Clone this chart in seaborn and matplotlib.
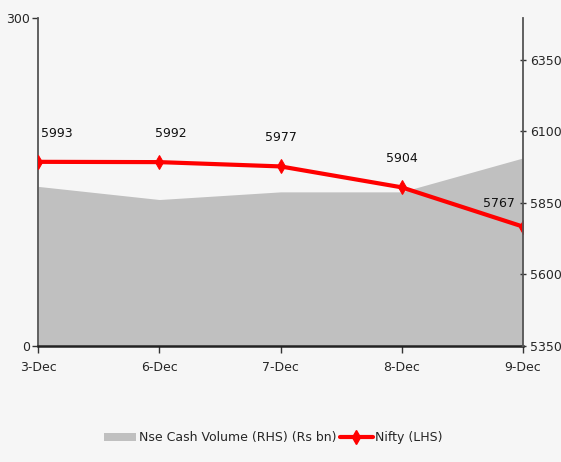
import numpy as np
import pandas as pd
import matplotlib as mpl
mpl.use("Agg")
import matplotlib.pyplot as plt
import seaborn as sns
from matplotlib.patches import Patch
from matplotlib.lines import Line2D

dates = ['3-Dec', '6-Dec', '7-Dec', '8-Dec', '9-Dec']
cash_volume = [146, 134, 141, 141, 172]
nifty = [5993, 5992, 5977, 5904, 5767]
left_ticks = [0, 300]
right_ticks = [5350, 5600, 5850, 6100, 6350]

sns.set_style("white")
plt.rcParams['font.family'] = ['DejaVu Sans']
bg = '#f6f6f6'

df = pd.DataFrame({'date': dates, 'pos': np.arange(len(dates)),
                   'volume': cash_volume, 'nifty': nifty})

fig = plt.figure(figsize=(5.61, 4.62), dpi=100, facecolor=bg)
ax = fig.add_axes([0.068, 0.251, 0.864, 0.71])
ax.set_facecolor(bg)

# area on left axis
ax.fill_between(df['pos'], 0, df['volume'], color='#c0c0c0', lw=0)
ax.set_xlim(0, len(dates) - 1)
ax.set_ylim(0, 300)
ax.set_yticks(left_ticks)
ax.set_xticks(df['pos'])
ax.set_xticklabels(dates)

ax2 = ax.twinx()
sns.lineplot(data=df, x='pos', y='nifty', ax=ax2, color='#ff0000', lw=3,
             marker='d', markersize=7, markeredgecolor='#ff0000')
ax2.set_ylim(5350, 6495)
ax2.set_yticks(right_ticks)
ax2.set_xlabel('')
ax2.set_ylabel('')
ax.set_xlim(0, len(dates) - 1)

n = len(nifty)
for i, v in enumerate(nifty):
    ha = 'left' if i == 0 else ('right' if i == n - 1 else 'center')
    dx = 2 if i == 0 else (-6 if i == n - 1 else (8 if i == 1 else 0))
    dy = 12 if i == n - 1 else 16
    ax2.annotate(str(v), (i, v), xytext=(dx, dy), textcoords='offset points',
                 ha=ha, va='bottom', fontsize=9, color='#111111')

for a in (ax, ax2):
    for s in a.spines.values():
        s.set_visible(False)
ax.spines['left'].set_visible(True)
ax.spines['bottom'].set_visible(True)
ax2.spines['right'].set_visible(True)
ax.spines['left'].set_color('#555555')
ax.spines['left'].set_linewidth(1.3)
ax.spines['bottom'].set_color('#222222')
ax.spines['bottom'].set_linewidth(1.8)
ax2.spines['right'].set_color('#555555')
ax2.spines['right'].set_linewidth(1.3)

ax.tick_params(axis='y', direction='out', length=4, width=1, color='#333333',
               labelsize=9, pad=2, left=True)
ax.tick_params(axis='x', direction='out', length=5, width=1, color='#333333',
               labelsize=9, pad=6, bottom=True)
ax2.tick_params(axis='y', direction='inout', length=5, width=1, color='#333333',
                labelsize=9, pad=3, right=True)

handles = [Patch(facecolor='#c0c0c0', edgecolor='none'),
           Line2D([0], [0], color='#ff0000', lw=3, marker='d', markersize=7)]
fig.legend(handles, ['Nse Cash Volume (RHS) (Rs bn)', 'Nifty (LHS)'],
           loc='center', bbox_to_anchor=(0.487, 0.052), ncol=2, frameon=False,
           fontsize=9, handlelength=2.6, columnspacing=0.3, handletextpad=0.2)

fig.savefig('out.png', dpi=100, facecolor=bg)
